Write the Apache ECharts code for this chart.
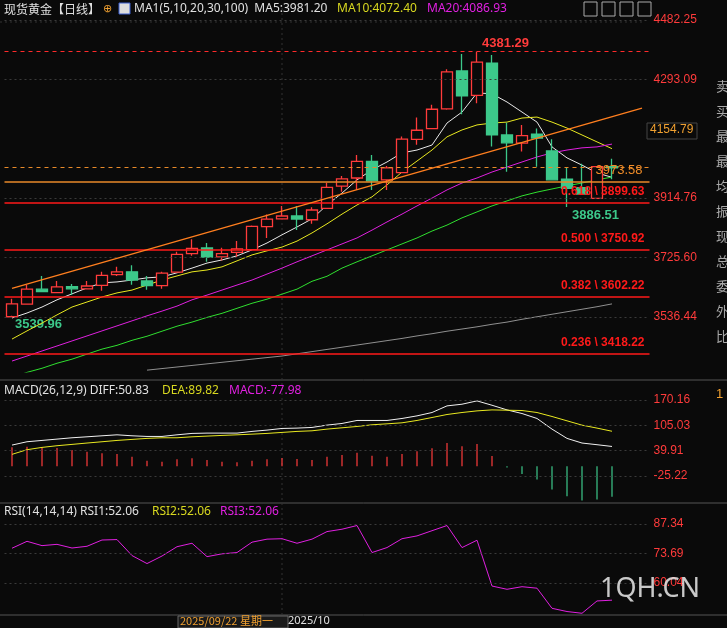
<!DOCTYPE html>
<html>
<head>
<meta charset="utf-8">
<script src="https://cdn.jsdelivr.net/npm/echarts@6/dist/echarts.min.js"></script>
<style>
html,body{margin:0;padding:0;background:#0a0a0a;}
#main{width:727px;height:628px;}
</style>
</head>
<body>
<div id="main"></div>
<script>
// candles: open, close, low, high
var opens  = [3537,3577,3625,3614,3633,3626,3637,3671,3680,3651,3636,3679,3738,3756,3728,3742,3751,3824,3849,3858,3846,3882,3953,3979,4032,3973,3996,4102,4136,4199,4320,4242,4345,4116,4090,4119,4065,3975,3948,3914,4015];
var closes = [3578,3625,3617,3632,3626,3635,3669,3680,3654,3636,3676,3736,3755,3727,3738,3753,3825,3848,3858,3848,3877,3949,3976,4032,3970,4011,4103,4131,4198,4317,4241,4348,4116,4091,4114,4106,3973,3946,3928,4015,4011];
var lows   = [3540,3575,3615,3612,3606,3625,3620,3667,3639,3623,3626,3678,3731,3712,3716,3728,3750,3788,3847,3813,3833,3882,3935,3941,3941,3941,3996,4085,4136,4196,4182,4217,4079,3999,4063,4015,3972,3886.51,3928,3914,3975];
var highs  = [3594,3638,3667,3651,3641,3651,3680,3696,3701,3667,3680,3744,3784,3772,3757,3778,3828,3863,3890,3890,3886,3964,3985,4052,4052,4017,4111,4172,4212,4325,4374,4381.29,4371,4155,4148,4137,4102,4013,4024,4017,4040];

var ma5  = [3533,3549,3568,3591,3610,3629,3645,3648,3654,3661,3664,3677,3692,3708,3718,3731,3750,3772,3798,3823,3849,3893,3931,3973,4005,4030,4059,4068,4084,4154,4189,4250,4247,4221,4189,4157,4078,4043,4020,3995,3981.2];
var ma10 = [3466,3492,3517,3543,3568,3584,3600,3613,3622,3638,3654,3667,3680,3686,3696,3715,3734,3747,3759,3778,3804,3833,3864,3893,3919,3957,3998,4033,4068,4110,4132,4148,4154,4157,4170,4173,4157,4138,4116,4094,4072.4];
var ma20 = [3396,3412,3428,3444,3460,3476,3492,3508,3524,3540,3555,3571,3591,3606,3622,3638,3654,3673,3692,3712,3731,3750,3769,3788,3813,3839,3864,3890,3915,3941,3963,3979,3998,4014,4030,4046,4059,4068,4075,4078,4086.93];
var ma30 = [3344,3360,3373,3389,3402,3418,3434,3446,3462,3475,3491,3507,3520,3535,3548,3564,3580,3593,3609,3625,3650,3666,3692,3712,3731,3750,3769,3788,3810,3829,3852,3871,3890,3906,3922,3934,3944,3954,3963,3973,3982];
var ma100 = [null,null,null,null,null,null,null,null,null,3367,3372,3377,3382,3387,3392,3397,3402,3407,3412,3419,3426,3433,3440,3447,3454,3461,3468,3476,3483,3491,3498,3505,3513,3520,3529,3537,3545,3553,3561,3569,3578];

var macdHist = [48.5,50,48.5,46.7,41.6,37.3,33.2,31.4,24.5,14.3,11.7,17.9,20.4,16.1,11.7,10.2,14.3,17.9,21.2,18.6,16.1,24.5,28.9,34.8,27.1,24.5,31.4,38.3,46,59.5,51.1,57,26.3,-3,-19.7,-34.2,-59.8,-76.6,-87.9,-85.3,-77.98];
var diff = [54.4,62.9,66.3,69.7,73.1,75.6,78.2,80.7,78.2,76.5,76.5,80.7,84.3,85.1,85.1,85.1,89.4,92.8,97,97.9,99.6,105.6,109.8,117.5,117.5,117.5,122.6,129.3,137.9,154.9,159.2,167.7,156.5,144.6,135.3,122.6,95.3,71.5,59.6,55.3,50.83];
var dea = [30.6,42.5,48.4,52.7,56.1,59.6,62.9,66.3,68.9,71.5,73.1,73.1,75.6,77.4,79.1,80.7,82.4,84.3,86.8,89.4,91,95.3,98.7,102.1,106.4,108.9,111.5,117.5,125.1,132.8,137.9,142.1,144.6,143.8,143,137.9,127.7,116.6,105.5,97.9,89.82];
var rsi = [76.1,79.3,77.3,77.9,76.2,77,79.9,80.1,72.7,69,72.5,76.8,78.4,72.2,73.5,74.1,78.9,80.3,80.5,78.4,80.3,83.8,84.9,86.6,74.1,76.4,80.5,81.8,84.2,86.6,76.4,79.8,58.6,57.1,58.3,57.6,48.3,46.8,46,51.7,52.06];

var priceTicks = [4482.25, 4293.09, 3914.76, 3725.60, 3536.44];
var macdTicks = [170.16, 105.03, 39.91, -25.22];
var rsiTicks = [87.34, 73.69, 60.04];
var fibLevels = [['0.618', 3899.63], ['0.500', 3750.92], ['0.382', 3602.22], ['0.236', 3418.22]];
var trendLine = [3627.7, 4201.6];

var RED = '#ff3b3b', GREEN = '#3cc88a';
var cats = [];
for (var i = 0; i < 43; i++) cats.push(String(i));
var kData = opens.map(function (o, i) { return [o, closes[i], lows[i], highs[i]]; });

var tickLines = function (vals) {
    return vals.map(function (v) {
        return { yAxis: v, lineStyle: { color: '#3a3a3a', type: [2, 3], width: 1 },
            label: { show: true, position: 'end', formatter: v.toFixed(2), color: RED, fontSize: 12, distance: 4 } };
    });
};

var chart = echarts.init(document.getElementById('main'));
var xAxisBase = function (idx) {
    return { type: 'category', data: cats, gridIndex: idx, boundaryGap: true,
        axisLine: { show: false }, axisTick: { show: false }, axisLabel: { show: false } };
};
var yAxisBase = function (idx, min, max) {
    return { type: 'value', gridIndex: idx, min: min, max: max, position: 'right',
        axisLabel: { show: false }, splitLine: { show: false }, axisLine: { show: false }, axisTick: { show: false } };
};

var lineS = function (name, data, color, xi, yi) {
    return { name: name, type: 'line', data: data, xAxisIndex: xi || 0, yAxisIndex: yi || 0,
        symbol: 'none', silent: true, lineStyle: { color: color, width: 1 }, z: 3 };
};

var fibMarks = fibLevels.map(function (f) {
    return { yAxis: f[1], lineStyle: { color: '#ff1a1a', type: 'solid', width: 1.5 },
        label: { show: true, position: 'insideEndTop', formatter: f[0] + ' \\ ' + f[1].toFixed(2),
            color: '#ff1a1a', fontWeight: 'bold', fontSize: 12 } };
});

var option = {
    backgroundColor: '#0a0a0a',
    animation: false,
    grid: [
        { left: 4.5, width: 645, top: 8, height: 364 },
        { left: 4.5, width: 645, top: 383, height: 120 },
        { left: 4.5, width: 645, top: 505, height: 110 }
    ],
    xAxis: [xAxisBase(0), xAxisBase(1), xAxisBase(2)],
    yAxis: [yAxisBase(0, 3361.1, 4520.4), yAxisBase(1, -94.2, 213.6), yAxisBase(2, 45.2, 96.1)],
    series: [
        { type: 'candlestick', data: kData, barWidth: 11, z: 4,
            itemStyle: { color: '#0a0a0a', color0: GREEN, borderColor: RED, borderColor0: GREEN, borderWidth: 1.3 } },
        { type: 'line', data: [], z: 10, silent: true,
            markLine: { symbol: 'none', silent: true, animation: false,
                data: tickLines(priceTicks).concat(fibMarks).concat([
                    { yAxis: 4381.29, lineStyle: { color: '#ff2a2a', type: [4, 4], width: 1 }, label: { show: false } },
                    { yAxis: 4014, lineStyle: { color: '#e88a2a', type: [4, 4], width: 1 }, label: { show: false } },
                    { yAxis: 3967, lineStyle: { color: '#e88a2a', type: 'solid', width: 1.5 },
                        label: { show: true, position: 'insideEndTop', formatter: '3973.58', color: '#f08c28', fontSize: 13, offset: [-2, 0] } },
                    [{ coord: ['0', trendLine[0]], lineStyle: { color: '#ff7f1f', width: 1.3, type: 'solid' }, label: { show: false } },
                     { coord: ['42', trendLine[1]] }]
                ]) } },
        lineS('MA5', ma5, '#e8e8e8'),
        lineS('MA10', ma10, '#e8e820'),
        lineS('MA20', ma20, '#e020e0'),
        lineS('MA30', ma30, '#30e030'),
        lineS('MA100', ma100, '#909090'),
        { type: 'bar', data: macdHist, xAxisIndex: 1, yAxisIndex: 1, barWidth: 1.2, silent: true,
            itemStyle: { color: function (p) { return p.value >= 0 ? RED : GREEN; } },
            markLine: { symbol: 'none', silent: true, data: tickLines(macdTicks) } },
        lineS('DIFF', diff, '#f0f0f0', 1, 1),
        lineS('DEA', dea, '#e8e820', 1, 1),
        Object.assign(lineS('RSI', rsi, '#e020e0', 2, 2), {
            markLine: { symbol: 'none', silent: true, data: tickLines(rsiTicks) } })
    ],
    graphic: [
        { type: 'line', shape: { x1: 0, y1: 380, x2: 727, y2: 380 }, style: { stroke: '#555', lineWidth: 1 } },
        { type: 'line', shape: { x1: 0, y1: 503, x2: 727, y2: 503 }, style: { stroke: '#555', lineWidth: 1 } },
        { type: 'line', shape: { x1: 0, y1: 615, x2: 727, y2: 615 }, style: { stroke: '#555', lineWidth: 1 } },
        { type: 'line', shape: { x1: 282, y1: 8, x2: 282, y2: 615 }, style: { stroke: '#333', lineDash: [2, 3], lineWidth: 1 } },
        { type: 'line', shape: { x1: 0, y1: 22, x2: 645, y2: 22 }, style: { stroke: '#333', lineDash: [2, 3], lineWidth: 1 }, z: -1 },
        { type: 'text', left: 4, top: 3, style: { text: '现货黄金【日线】', fill: '#e0e0e0', fontSize: 12, fontFamily: 'Noto Sans CJK SC' } },
        { type: 'text', left: 103, top: 3, style: { text: '⊕', fill: '#f0a030', fontSize: 11 } },
        { type: 'rect', shape: { x: 119, y: 3, width: 11, height: 11 }, style: { fill: '#ddd', stroke: '#3a5fd0' } },
        { type: 'text', left: 134, top: 3, style: { text: 'MA1(5,10,20,30,100)  MA5:3981.20', fill: '#e0e0e0', fontSize: 12, fontFamily: 'Noto Sans' } },
        { type: 'text', left: 337, top: 3, style: { text: 'MA10:4072.40', fill: '#d8d820', fontSize: 12, fontFamily: 'Noto Sans' } },
        { type: 'text', left: 427, top: 3, style: { text: 'MA20:4086.93', fill: '#e020e0', fontSize: 12, fontFamily: 'Noto Sans' } },
        { type: 'rect', shape: { x: 584, y: 2, width: 13, height: 14 }, style: { fill: 'none', stroke: '#aaa' } },
        { type: 'rect', shape: { x: 602, y: 2, width: 13, height: 14 }, style: { fill: 'none', stroke: '#aaa' } },
        { type: 'rect', shape: { x: 620, y: 2, width: 13, height: 14 }, style: { fill: 'none', stroke: '#aaa' } },
        { type: 'rect', shape: { x: 638, y: 2, width: 13, height: 14 }, style: { fill: 'none', stroke: '#aaa' } },
        { type: 'text', left: 482, top: 37, style: { text: '4381.29', fill: '#ff3b3b', fontSize: 13, fontWeight: 'bold' } },
        { type: 'text', left: 572, top: 209, style: { text: '3886.51', fill: GREEN, fontSize: 13, fontWeight: 'bold' } },
        { type: 'text', left: 15, top: 318, style: { text: '3539.96', fill: GREEN, fontSize: 13, fontWeight: 'bold' } },
        { type: 'rect', shape: { x: 647, y: 123, width: 50, height: 16 }, style: { fill: '#0a0a0a', stroke: '#444' }, z: 10 },
        { type: 'text', left: 650, top: 124, z: 11, style: { text: '4154.79', fill: '#f0a030', fontSize: 12 } },
        { type: 'text', left: 4, top: 385, style: { text: 'MACD(26,12,9) DIFF:50.83', fill: '#e0e0e0', fontSize: 12, fontFamily: 'Noto Sans' } },
        { type: 'text', left: 162, top: 385, style: { text: 'DEA:89.82', fill: '#d8d820', fontSize: 12, fontFamily: 'Noto Sans' } },
        { type: 'text', left: 229, top: 385, style: { text: 'MACD:-77.98', fill: '#e020e0', fontSize: 12, fontFamily: 'Noto Sans' } },
        { type: 'text', left: 4, top: 506, style: { text: 'RSI(14,14,14) RSI1:52.06', fill: '#e0e0e0', fontSize: 12, fontFamily: 'Noto Sans' } },
        { type: 'text', left: 152, top: 506, style: { text: 'RSI2:52.06', fill: '#d8d820', fontSize: 12, fontFamily: 'Noto Sans' } },
        { type: 'text', left: 220, top: 506, style: { text: 'RSI3:52.06', fill: '#e020e0', fontSize: 12, fontFamily: 'Noto Sans' } },
        { type: 'rect', shape: { x: 178, y: 616, width: 110, height: 12 }, style: { fill: '#1a1a1a', stroke: '#666' } },
        { type: 'text', left: 180, top: 615, style: { text: '2025/09/22 星期一', fill: '#f0a030', fontSize: 11, fontFamily: 'Noto Sans CJK SC' } },
        { type: 'text', left: 288, top: 615, style: { text: '2025/10', fill: '#e0e0e0', fontSize: 11, fontFamily: 'Noto Sans' } },
        { type: 'text', left: 600, top: 576, z: 20, style: { text: '1QH.CN', fill: 'rgba(235,235,235,0.85)', fontSize: 27, fontFamily: 'Noto Sans' } },
        { type: 'text', left: 716, top: 80, style: { text: '卖\n\n买\n\n最\n\n最\n\n均\n\n振\n\n现\n\n总\n\n委\n\n外\n\n比', fill: '#aaa', fontSize: 13, lineHeight: 12.5, fontFamily: 'Noto Sans CJK SC' } },
        { type: 'text', left: 716, top: 388, style: { text: '1', fill: '#f0a030', fontSize: 13 } }
    ]
};
chart.setOption(option);
</script>
</body>
</html>
